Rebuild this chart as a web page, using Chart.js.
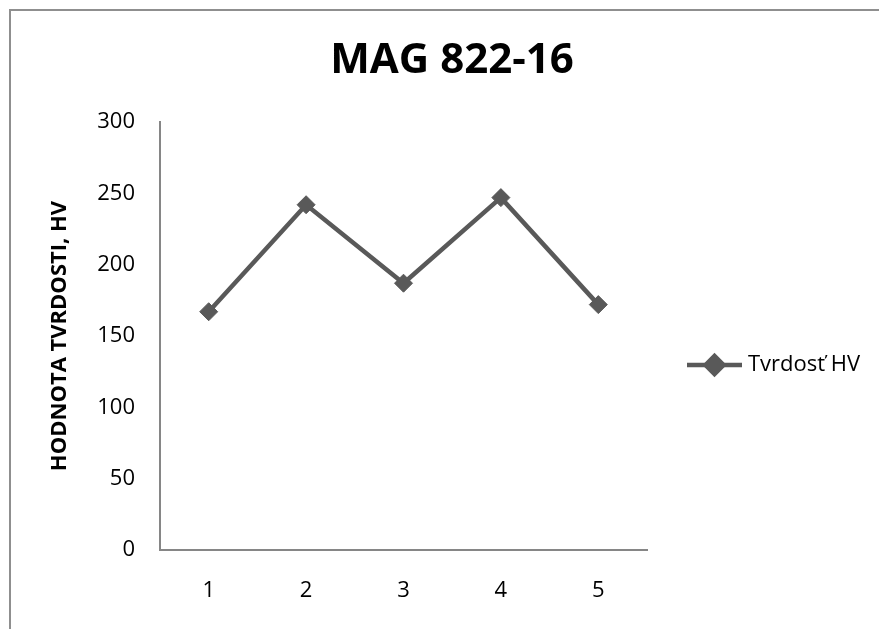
<!DOCTYPE html>
<html>
<head>
<meta charset="utf-8">
<script src="https://cdn.jsdelivr.net/npm/chart.js@4.4.1/dist/chart.umd.min.js"></script>
<style>
  html, body { margin: 0; padding: 0; background: #fff; overflow: hidden; }
  #wrap { position: relative; width: 879px; height: 629px; }
  #frame {
    position: absolute; left: 9px; top: 9px; width: 900px; height: 700px;
    border-top: 2px solid #8f8f8f; border-left: 2px solid #8f8f8f;
    pointer-events: none;
  }
</style>
</head>
<body>
<div id="wrap">
  <canvas id="chart" width="879" height="629"></canvas>
  <div id="frame"></div>
</div>
<script>
const categories = ["1", "2", "3", "4", "5"];
const hardness   = [167, 242, 187, 247, 172];
const seriesName = "Tvrdosť HV";
const chartTitle = "MAG 822-16";
const yTitle     = "HODNOTA TVRDOSTI, HV";

const FONT = "'Open Sans', sans-serif";
const GREY = "#595959";
const AXIS = "#868686";

// legend drawn by hand: line with a diamond, to the right of the plot
const lineLegend = {
  id: "lineLegend",
  afterDraw(chart) {
    const { ctx, chartArea } = chart;
    const ds = chart.data.datasets[0];
    const x0 = chartArea.right + 40;
    const y = (chartArea.top + chartArea.bottom) / 2 + 29;
    ctx.save();
    ctx.strokeStyle = ds.borderColor;
    ctx.lineWidth = ds.borderWidth;
    ctx.beginPath();
    ctx.moveTo(x0, y);
    ctx.lineTo(x0 + 55, y);
    ctx.stroke();
    Chart.helpers.drawPoint(ctx, {
      pointStyle: "rectRot", radius: ds.pointRadius, borderWidth: 1
    }, x0 + 27.5, y);
    ctx.fillStyle = ds.pointBackgroundColor;
    ctx.fill();
    ctx.fillStyle = "#000";
    ctx.font = "22px " + FONT;
    ctx.textBaseline = "middle";
    ctx.fillText(ds.label, x0 + 61, y);
    ctx.restore();
  }
};

new Chart(document.getElementById("chart").getContext("2d"), {
  type: "line",
  data: {
    labels: categories,
    datasets: [{
      label: seriesName,
      data: hardness,
      borderColor: GREY,
      borderWidth: 4.5,
      pointStyle: "rectRot",
      pointRadius: 9,
      pointHoverRadius: 9,
      pointBackgroundColor: GREY,
      pointBorderColor: GREY,
      pointBorderWidth: 1,
      tension: 0,
      fill: false,
      yAxisID: "y",
    }],
  },
  options: {
    responsive: false,
    animation: false,
    layout: { padding: { left: 25, right: 0, top: 0, bottom: 0 } },
    plugins: {
      legend: { display: false },
      tooltip: { enabled: false },
      title: {
        display: true,
        text: chartTitle,
        color: "#000",
        font: { family: FONT, size: 42, weight: "bold" },
        padding: { top: 36, bottom: 35.6 },
      },
    },
    scales: {
      x: {
        type: "category",
        offset: true,
        grid: { display: false, drawTicks: false },
        border: { display: true, color: AXIS, width: 2 },
        ticks: { color: "#000", font: { family: FONT, size: 22 }, padding: 28 },
        afterFit(s) { s.height = 79; },
      },
      y: {
        position: "left",
        min: 0,
        max: 300,
        grid: { display: false, drawTicks: false },
        border: { display: true, color: AXIS, width: 2 },
        ticks: { stepSize: 50, color: "#000", font: { family: FONT, size: 22 }, padding: 25 },
        title: {
          display: true,
          text: yTitle,
          color: "#000",
          font: { family: FONT, size: 22, weight: "bold" },
          padding: { top: 22, bottom: 0 },
        },
        afterFit(s) { s.width = 135; },
      },
      // empty right-hand box that keeps room for the legend
      yR: {
        position: "right",
        min: 0,
        max: 1,
        grid: { display: false, drawTicks: false },
        border: { display: false },
        ticks: { display: false },
        afterFit(s) { s.width = 232; },
      },
    },
  },
  plugins: [lineLegend],
});
</script>
</body>
</html>
